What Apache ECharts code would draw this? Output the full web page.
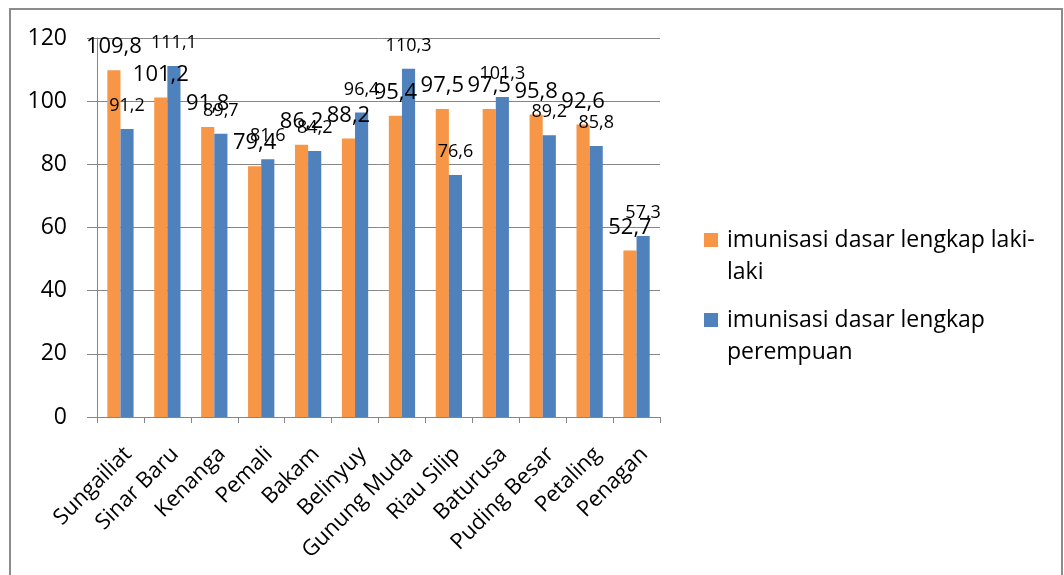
<!DOCTYPE html>
<html>
<head>
<meta charset="utf-8">
<script src="https://cdn.jsdelivr.net/npm/echarts@6/dist/echarts.min.js"></script>
<style>
  html, body { margin: 0; padding: 0; background: #fff; }
  #wrap { position: absolute; left: 9px; top: 8px; width: 1050px; height: 580px; border: 2px solid #8c8c8c; border-bottom: none; }
  #chart { position: absolute; left: 0; top: 0; width: 1064px; height: 575px; }
</style>
</head>
<body>
<div id="wrap"></div>
<div id="chart"></div>
<script>
const categories = ['Sungailiat', 'Sinar Baru', 'Kenanga', 'Pemali', 'Bakam', 'Belinyuy',
  'Gunung Muda', 'Riau Silip', 'Baturusa', 'Puding Besar', 'Petaling', 'Penagan']
const lakiLaki = [109.8, 101.2, 91.8, 79.4, 86.2, 88.2, 95.4, 97.5, 97.5, 95.8, 92.6, 52.7]
const perempuan = [91.2, 111.1, 89.7, 81.6, 84.2, 96.4, 110.3, 76.6, 101.3, 89.2, 85.8, 57.3]

const fontFamily = '"Open Sans", "Noto Sans", sans-serif'
const chart = echarts.init(document.getElementById('chart'))

const fmt = p => String(p.value).replace('.', ',')
// square sits on the first text line: the empty points stretch the icon box to 64px
const legendIcon = 'path://M0,0L0,0Z M0,9L14,9L14,23L0,23Z M0,64L0,64Z'

const option = {
  animation: false,
  textStyle: {fontFamily: fontFamily},
  color: ['#f79646', '#4f81bd'],
  grid: {left: 97, right: 404, top: 38, bottom: 158, containLabel: false},
  legend: {
    orient: 'vertical',
    left: 704,
    top: 224,
    padding: 0,
    itemWidth: 14,
    itemHeight: 64,
    itemGap: 16,
    icon: legendIcon,
    formatter: name => name === 'imunisasi dasar lengkap laki-laki'
      ? 'imunisasi dasar lengkap laki-\nlaki'
      : 'imunisasi dasar lengkap\nperempuan',
    textStyle: {fontSize: 23, color: '#000', lineHeight: 32, padding: [0, 0, 0, 4], fontFamily: fontFamily}
  },
  xAxis: {
    type: 'category',
    data: categories,
    axisLine: {lineStyle: {color: '#868686', width: 1}},
    axisTick: {show: true, length: 6, lineStyle: {color: '#868686'}},
    axisLabel: {rotate: 45, fontSize: 22, color: '#000', margin: 26, interval: 0, verticalAlign: 'top'}
  },
  yAxis: {
    type: 'value',
    min: 0,
    max: 120,
    interval: 20,
    axisLine: {show: true, lineStyle: {color: '#868686'}},
    axisTick: {show: true, length: 10, lineStyle: {color: '#868686'}},
    splitLine: {lineStyle: {color: '#868686', width: 1}},
    axisLabel: {fontSize: 23, color: '#000', margin: 30}
  },
  series: [
    {
      name: 'imunisasi dasar lengkap laki-laki',
      type: 'bar',
      data: lakiLaki,
      barGap: '0%',
      barCategoryGap: '44%',
      label: {show: true, position: 'top', distance: 12, fontSize: 22, color: '#000', formatter: fmt}
    },
    {
      name: 'imunisasi dasar lengkap perempuan',
      type: 'bar',
      data: perempuan,
      label: {show: true, position: 'top', distance: 14, fontSize: 18, color: '#000', formatter: fmt}
    }
  ]
}
chart.setOption(option)
</script>
</body>
</html>
